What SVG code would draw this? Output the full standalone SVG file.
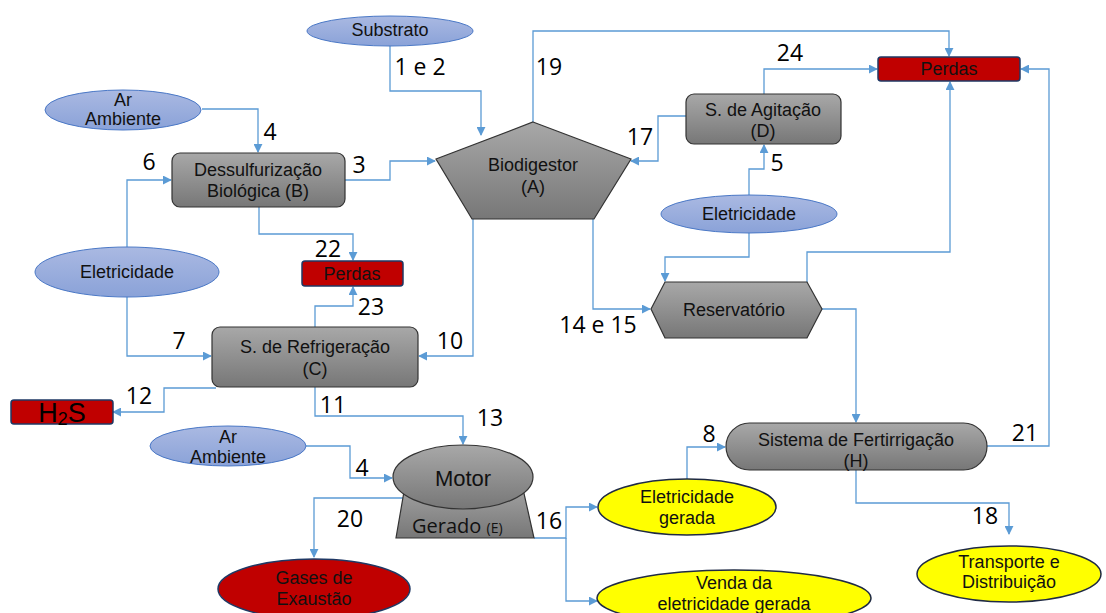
<svg xmlns="http://www.w3.org/2000/svg" width="1106" height="613" viewBox="0 0 1106 613">
<defs>
<linearGradient id="gGray" x1="0" y1="0" x2="0" y2="1">
<stop offset="0" stop-color="#a8a8a8"/><stop offset="1" stop-color="#777777"/>
</linearGradient>
<linearGradient id="gBlue" x1="0" y1="0" x2="0" y2="1">
<stop offset="0" stop-color="#aab9e2"/><stop offset="1" stop-color="#8aa2d8"/>
</linearGradient>
<marker id="arr" viewBox="0 0 10 10" refX="9" refY="5" markerWidth="9" markerHeight="9" markerUnits="userSpaceOnUse" orient="auto">
<path d="M0,0 L10,5 L0,10 z" fill="#5b9bd5"/>
</marker>
<style>
.gray{fill:url(#gGray);stroke:#333;stroke-width:1.2}
.blue{fill:url(#gBlue);stroke:#4a78c6;stroke-width:1}
.red{fill:#c00000;stroke:#1f3864;stroke-width:1.5}
.yel{fill:#ffff00;stroke:#1f2a44;stroke-width:1.5}
.t{font-family:"Liberation Sans",Arial,sans-serif;font-size:18px;fill:#111;text-anchor:middle}
.n{font-family:"Open Sans","Liberation Sans",sans-serif;font-size:23px;fill:#000;text-anchor:middle}
.c path{fill:none;stroke:#5b9bd5;stroke-width:1.3}
</style>
</defs>
<rect width="1106" height="613" fill="#fff"/>

<g class="c" id="connectors">
<path d="M390,46 V91 H481 V135" marker-end="url(#arr)"/>
<path d="M202,109 H258 V152" marker-end="url(#arr)"/>
<path d="M127,247 V180 H171" marker-end="url(#arr)"/>
<path d="M345,180 H390 V161 H435" marker-end="url(#arr)"/>
<path d="M533,122 V31 H949 V56" marker-end="url(#arr)"/>
<path d="M686,116 H658 V161 H631" marker-end="url(#arr)"/>
<path d="M764,94 V69 H877" marker-end="url(#arr)"/>
<path d="M749,195 V169 H764 V145" marker-end="url(#arr)"/>
<path d="M259,207 V234 H353 V260" marker-end="url(#arr)"/>
<path d="M315,327 V306 H353 V287" marker-end="url(#arr)"/>
<path d="M127,297 V356 H211" marker-end="url(#arr)"/>
<path d="M473,219 V356 H419" marker-end="url(#arr)"/>
<path d="M216,388 H164 V412 H113" marker-end="url(#arr)"/>
<path d="M315,387 V416 H463 V444" marker-end="url(#arr)"/>
<path d="M306,446 H350 V478 H392" marker-end="url(#arr)"/>
<path d="M415,498 H314 V557" marker-end="url(#arr)"/>
<path d="M534,538 H566 V507 H597" marker-end="url(#arr)"/>
<path d="M566,538 V601 H597" marker-end="url(#arr)"/>
<path d="M593,219 V309 H650" marker-end="url(#arr)"/>
<path d="M749,233 V257 H665 V281" marker-end="url(#arr)"/>
<path d="M807,282 V252 H950 V82" marker-end="url(#arr)"/>
<path d="M822,309 H856 V422" marker-end="url(#arr)"/>
<path d="M687,479 V447 H725" marker-end="url(#arr)"/>
<path d="M987,446 H1049 V69 H1021" marker-end="url(#arr)"/>
<path d="M856,470 V503 H1009 V534" marker-end="url(#arr)"/>
</g>

<g id="substrato"><ellipse class="blue" cx="390" cy="31" rx="83" ry="15"/><text class="t" x="390" y="36">Substrato</text></g>
<g id="ar-ambiente-1"><ellipse class="blue" cx="123" cy="110" rx="78" ry="20"/><text class="t" x="123" y="106">Ar</text><text class="t" x="123" y="125">Ambiente</text></g>
<g id="dessulfurizacao"><rect class="gray" x="172" y="153" width="173" height="54" rx="8"/><text class="t" x="258" y="176">Dessulfurização</text><text class="t" x="258" y="197">Biológica (B)</text></g>
<g id="biodigestor"><polygon class="gray" points="533,122 631,159 594,219 472,219 436,159"/><text class="t" x="533" y="171">Biodigestor</text><text class="t" x="533" y="193">(A)</text></g>
<g id="agitacao"><rect class="gray" x="686" y="94" width="155" height="50" rx="8"/><text class="t" x="763" y="116">S. de Agitação</text><text class="t" x="763" y="137">(D)</text></g>
<g id="perdas-1"><rect class="red" x="878" y="57" width="142" height="24" rx="3"/><text class="t" x="949" y="75">Perdas</text></g>
<g id="eletricidade-2"><ellipse class="blue" cx="749" cy="214" rx="88" ry="19"/><text class="t" x="749" y="220">Eletricidade</text></g>
<g id="eletricidade-1"><ellipse class="blue" cx="127" cy="272" rx="92" ry="25"/><text class="t" x="127" y="278">Eletricidade</text></g>
<g id="perdas-2"><rect class="red" x="302" y="261" width="101" height="25" rx="3"/><text class="t" x="352" y="280">Perdas</text></g>
<g id="refrigeracao"><rect class="gray" x="212" y="327" width="206" height="60" rx="8"/><text class="t" x="315" y="353">S. de Refrigeração</text><text class="t" x="315" y="375">(C)</text></g>
<g id="reservatorio"><polygon class="gray" points="651,309 665,282 807,282 822,309 807,338 665,338"/><text class="t" x="734" y="316">Reservatório</text></g>
<g id="h2s"><rect class="red" x="11" y="400" width="102" height="24" rx="3"/><text x="62" y="421.5" font-family="Liberation Sans, Arial, sans-serif" font-size="27" fill="#000" text-anchor="middle">H<tspan font-size="18" dy="3">2</tspan><tspan dy="-3">S</tspan></text></g>
<g id="ar-ambiente-2"><ellipse class="blue" cx="228" cy="446" rx="78" ry="20"/><text class="t" x="228" y="443">Ar</text><text class="t" x="228" y="463">Ambiente</text></g>
<g id="motor-gerador"><polygon class="gray" points="406,480 521,480 534,538 396,538"/><ellipse class="gray" cx="463" cy="477" rx="70" ry="32"/><text x="463" y="486" font-family="Liberation Sans, Arial, sans-serif" font-size="22" fill="#111" text-anchor="middle">Motor</text><text x="412" y="533" font-family="Open Sans, Liberation Sans, sans-serif" font-size="20" fill="#111">Gerado <tspan font-size="14">(E)</tspan></text></g>
<g id="gases"><ellipse class="red" cx="314" cy="589" rx="96" ry="30"/><text class="t" x="314" y="584">Gases de</text><text class="t" x="314" y="605">Exaustão</text></g>
<g id="fertirrigacao"><rect class="gray" x="726" y="423" width="261" height="47" rx="23.5"/><text class="t" x="856" y="446">Sistema de Fertirrigação</text><text class="t" x="856" y="467">(H)</text></g>
<g id="eletricidade-gerada"><ellipse class="yel" cx="687" cy="507" rx="89" ry="28"/><text class="t" x="687" y="503">Eletricidade</text><text class="t" x="687" y="524">gerada</text></g>
<g id="venda"><ellipse class="yel" cx="734" cy="598" rx="137" ry="28"/><text class="t" x="734" y="589">Venda da</text><text class="t" x="734" y="610">eletricidade gerada</text></g>
<g id="transporte"><ellipse class="yel" cx="1009" cy="574" rx="92" ry="28"/><text class="t" x="1009" y="568">Transporte  e</text><text class="t" x="1009" y="588">Distribuição</text></g>

<g id="labels">
<text class="n" x="420" y="75">1 e 2</text>
<text class="n" x="549" y="75">19</text>
<text class="n" x="790" y="61">24</text>
<text class="n" x="640" y="145">17</text>
<text class="n" x="777" y="171">5</text>
<text class="n" x="270" y="140">4</text>
<text class="n" x="149" y="170">6</text>
<text class="n" x="359" y="173">3</text>
<text class="n" x="328" y="257">22</text>
<text class="n" x="371" y="315">23</text>
<text class="n" x="179" y="349">7</text>
<text class="n" x="450" y="349">10</text>
<text class="n" x="598" y="333">14 e 15</text>
<text class="n" x="139" y="404">12</text>
<text class="n" x="333" y="413">11</text>
<text class="n" x="490" y="426">13</text>
<text class="n" x="362" y="476">4</text>
<text class="n" x="350" y="527">20</text>
<text class="n" x="549" y="529">16</text>
<text class="n" x="709" y="442">8</text>
<text class="n" x="1025" y="441">21</text>
<text class="n" x="985" y="524">18</text>
</g>
</svg>
